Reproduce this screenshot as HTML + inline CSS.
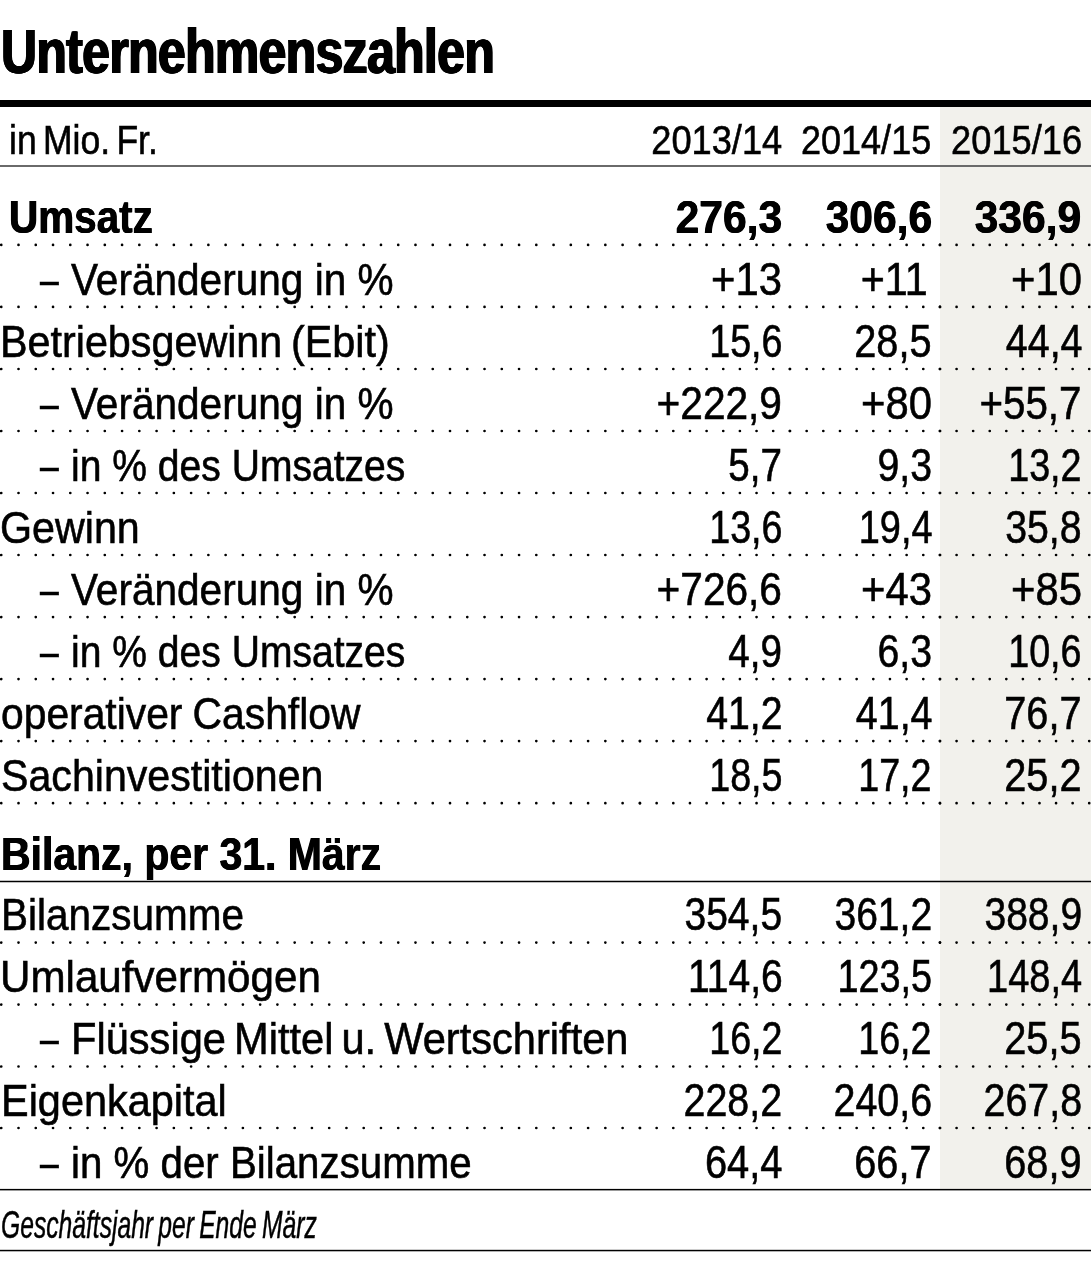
<!DOCTYPE html>
<html lang="de"><head><meta charset="utf-8"><title>Unternehmenszahlen</title>
<style>
html,body{margin:0;padding:0;background:#fff}
#page{position:relative;width:1091px;height:1280px;overflow:hidden;background:#fff;font-family:"Liberation Sans", Arial, sans-serif;color:#000}
.shade{position:absolute;left:940px;top:107px;width:151px;height:1083px;background:#f2f1ec}
.t{position:absolute;white-space:nowrap;word-spacing:-0.065em;line-height:1;transform-origin:0 0;margin:0;font-weight:400}
.t.r{transform-origin:100% 0}
.title{font-size:63.0px;font-weight:700;letter-spacing:-0.8px;text-shadow:1.1px 0 0 #000,-1.1px 0 0 #000,0.55px 0 0 #000,-0.55px 0 0 #000}
.hd{font-size:41.0px;-webkit-text-stroke:0.6px #000}
.b{font-size:45.0px;-webkit-text-stroke:0.6px #000}
.n{font-size:46.0px}
.bd{font-size:46.0px;font-weight:700;word-spacing:0;-webkit-text-stroke:0;text-shadow:0.5px 0 0 #000,-0.5px 0 0 #000}
.ft{font-size:38.0px;font-style:italic;-webkit-text-stroke:0.5px #000}
.dots{position:absolute;left:0;top:0}
.row,.note{margin:0;padding:0}
.dr{fill:none;stroke:#000;stroke-width:2.7;stroke-linecap:round}
.d0{stroke-dasharray:0 17.26}
.d1{stroke-dasharray:0 16.65}
.d2{stroke-dasharray:0 16.66}
.d3{stroke-dasharray:0 16.58}
</style></head>
<body><div id="page">
<div class="shade"></div>
<svg class="dots" width="1091" height="1280" viewBox="0 0 1091 1280" aria-hidden="true">
<rect x="0" y="100" width="1091" height="7"/>
<rect x="0" y="165" width="1091" height="2" fill="#6a6a6a"/>
<rect x="0" y="880.75" width="1091" height="1.5"/>
<rect x="0" y="1188.9" width="1091" height="1.5"/>
<rect x="0" y="1249.8" width="1091" height="1.5"/>
<g class="dr" transform="translate(0 244.9)"><path class="d0" d="M1.25 0H640.6"/><path class="d1" d="M640 0H790.5"/><path class="d2" d="M790 0H940.5"/><path class="d3" d="M940 0H1090"/></g>
<g class="dr" transform="translate(0 306.9)"><path class="d0" d="M1.25 0H640.6"/><path class="d1" d="M640 0H790.5"/><path class="d2" d="M790 0H940.5"/><path class="d3" d="M940 0H1090"/></g>
<g class="dr" transform="translate(0 369.0)"><path class="d0" d="M1.25 0H640.6"/><path class="d1" d="M640 0H790.5"/><path class="d2" d="M790 0H940.5"/><path class="d3" d="M940 0H1090"/></g>
<g class="dr" transform="translate(0 431.0)"><path class="d0" d="M1.25 0H640.6"/><path class="d1" d="M640 0H790.5"/><path class="d2" d="M790 0H940.5"/><path class="d3" d="M940 0H1090"/></g>
<g class="dr" transform="translate(0 493.0)"><path class="d0" d="M1.25 0H640.6"/><path class="d1" d="M640 0H790.5"/><path class="d2" d="M790 0H940.5"/><path class="d3" d="M940 0H1090"/></g>
<g class="dr" transform="translate(0 555.0)"><path class="d0" d="M1.25 0H640.6"/><path class="d1" d="M640 0H790.5"/><path class="d2" d="M790 0H940.5"/><path class="d3" d="M940 0H1090"/></g>
<g class="dr" transform="translate(0 617.1)"><path class="d0" d="M1.25 0H640.6"/><path class="d1" d="M640 0H790.5"/><path class="d2" d="M790 0H940.5"/><path class="d3" d="M940 0H1090"/></g>
<g class="dr" transform="translate(0 679.1)"><path class="d0" d="M1.25 0H640.6"/><path class="d1" d="M640 0H790.5"/><path class="d2" d="M790 0H940.5"/><path class="d3" d="M940 0H1090"/></g>
<g class="dr" transform="translate(0 741.1)"><path class="d0" d="M1.25 0H640.6"/><path class="d1" d="M640 0H790.5"/><path class="d2" d="M790 0H940.5"/><path class="d3" d="M940 0H1090"/></g>
<g class="dr" transform="translate(0 803.2)"><path class="d0" d="M1.25 0H640.6"/><path class="d1" d="M640 0H790.5"/><path class="d2" d="M790 0H940.5"/><path class="d3" d="M940 0H1090"/></g>
<g class="dr" transform="translate(0 942.6)"><path class="d0" d="M1.25 0H640.6"/><path class="d1" d="M640 0H790.5"/><path class="d2" d="M790 0H940.5"/><path class="d3" d="M940 0H1090"/></g>
<g class="dr" transform="translate(0 1004.6)"><path class="d0" d="M1.25 0H640.6"/><path class="d1" d="M640 0H790.5"/><path class="d2" d="M790 0H940.5"/><path class="d3" d="M940 0H1090"/></g>
<g class="dr" transform="translate(0 1066.5)"><path class="d0" d="M1.25 0H640.6"/><path class="d1" d="M640 0H790.5"/><path class="d2" d="M790 0H940.5"/><path class="d3" d="M940 0H1090"/></g>
<g class="dr" transform="translate(0 1128.0)"><path class="d0" d="M1.25 0H640.6"/><path class="d1" d="M640 0H790.5"/><path class="d2" d="M790 0H940.5"/><path class="d3" d="M940 0H1090"/></g>
</svg>
<h1 class="t title" style="left:1.10px;top:20.00px;transform:scaleX(0.7919)">Unternehmenszahlen</h1>
<div class="row head">
<span class="t hd" style="left:8.63px;top:120.00px;word-spacing:-0.1em;transform:scaleX(0.8665)">in Mio. Fr.</span>
<span class="t hd r" style="right:309.16px;top:120.00px;transform:scaleX(0.8835)">2013/14</span>
<span class="t hd r" style="right:159.76px;top:120.00px;transform:scaleX(0.8788)">2014/15</span>
<span class="t hd r" style="right:8.87px;top:120.00px;transform:scaleX(0.8848)">2015/16</span>
</div>
<div class="row">
<span class="t b bd" style="left:9.28px;top:194.00px;transform:scaleX(0.8793)">Umsatz</span>
<span class="t b bd n r" style="right:308.80px;top:194.00px;transform:scaleX(0.9249)">276,3</span>
<span class="t b bd n r" style="right:159.20px;top:194.00px;transform:scaleX(0.9249)">306,6</span>
<span class="t b bd n r" style="right:9.40px;top:194.00px;transform:scaleX(0.9249)">336,9</span>
</div>
<div class="row">
<span class="t b dash" style="left:40.23px;top:257.00px;transform:scaleX(0.7500)">–</span>
<span class="t b" style="left:71.07px;top:257.00px;word-spacing:0em;transform:scaleX(0.9016)">Veränderung in %</span>
<span class="t b n r" style="right:308.63px;top:256.00px;transform:scaleX(0.9088)">+13</span>
<span class="t b n r" style="right:163.05px;top:256.00px;transform:scaleX(0.8962)">+11</span>
<span class="t b n r" style="right:9.23px;top:256.00px;transform:scaleX(0.9088)">+10</span>
</div>
<div class="row">
<span class="t b" style="left:0.42px;top:319.00px;transform:scaleX(0.9175)">Betriebsgewinn (Ebit)</span>
<span class="t b n r" style="right:308.75px;top:318.00px;transform:scaleX(0.8194)">15,6</span>
<span class="t b n r" style="right:159.09px;top:318.00px;transform:scaleX(0.8631)">28,5</span>
<span class="t b n r" style="right:8.96px;top:318.00px;transform:scaleX(0.8572)">44,4</span>
</div>
<div class="row">
<span class="t b dash" style="left:40.23px;top:381.00px;transform:scaleX(0.7500)">–</span>
<span class="t b" style="left:71.07px;top:381.00px;word-spacing:0em;transform:scaleX(0.9016)">Veränderung in %</span>
<span class="t b n r" style="right:308.67px;top:380.00px;transform:scaleX(0.8835)">+222,9</span>
<span class="t b n r" style="right:159.03px;top:380.00px;transform:scaleX(0.9088)">+80</span>
<span class="t b n r" style="right:9.28px;top:380.00px;transform:scaleX(0.8756)">+55,7</span>
</div>
<div class="row">
<span class="t b dash" style="left:40.23px;top:443.00px;transform:scaleX(0.7500)">–</span>
<span class="t b" style="left:70.96px;top:443.00px;word-spacing:0em;transform:scaleX(0.8682)">in % des Umsatzes</span>
<span class="t b n r" style="right:308.72px;top:442.00px;transform:scaleX(0.8392)">5,7</span>
<span class="t b n r" style="right:159.11px;top:442.00px;transform:scaleX(0.8530)">9,3</span>
<span class="t b n r" style="right:9.35px;top:442.00px;transform:scaleX(0.8194)">13,2</span>
</div>
<div class="row">
<span class="t b" style="left:0.44px;top:505.00px;transform:scaleX(0.9158)">Gewinn</span>
<span class="t b n r" style="right:308.75px;top:504.00px;transform:scaleX(0.8194)">13,6</span>
<span class="t b n r" style="right:158.77px;top:504.00px;transform:scaleX(0.8238)">19,4</span>
<span class="t b n r" style="right:9.31px;top:504.00px;transform:scaleX(0.8533)">35,8</span>
</div>
<div class="row">
<span class="t b dash" style="left:40.23px;top:567.00px;transform:scaleX(0.7500)">–</span>
<span class="t b" style="left:71.07px;top:567.00px;word-spacing:0em;transform:scaleX(0.9016)">Veränderung in %</span>
<span class="t b n r" style="right:308.67px;top:566.00px;transform:scaleX(0.8835)">+726,6</span>
<span class="t b n r" style="right:159.03px;top:566.00px;transform:scaleX(0.9088)">+43</span>
<span class="t b n r" style="right:9.23px;top:566.00px;transform:scaleX(0.9088)">+85</span>
</div>
<div class="row">
<span class="t b dash" style="left:40.23px;top:629.00px;transform:scaleX(0.7500)">–</span>
<span class="t b" style="left:70.96px;top:629.00px;word-spacing:0em;transform:scaleX(0.8682)">in % des Umsatzes</span>
<span class="t b n r" style="right:308.72px;top:628.00px;transform:scaleX(0.8392)">4,9</span>
<span class="t b n r" style="right:159.11px;top:628.00px;transform:scaleX(0.8530)">6,3</span>
<span class="t b n r" style="right:9.35px;top:628.00px;transform:scaleX(0.8194)">10,6</span>
</div>
<div class="row">
<span class="t b" style="left:1.37px;top:691.00px;word-spacing:-0.03em;transform:scaleX(0.9068)">operativer Cashflow</span>
<span class="t b n r" style="right:308.71px;top:690.00px;transform:scaleX(0.8533)">41,2</span>
<span class="t b n r" style="right:158.76px;top:690.00px;transform:scaleX(0.8572)">41,4</span>
<span class="t b n r" style="right:9.29px;top:690.00px;transform:scaleX(0.8631)">76,7</span>
</div>
<div class="row">
<span class="t b" style="left:1.45px;top:753.00px;transform:scaleX(0.9141)">Sachinvestitionen</span>
<span class="t b n r" style="right:308.75px;top:752.00px;transform:scaleX(0.8194)">18,5</span>
<span class="t b n r" style="right:159.15px;top:752.00px;transform:scaleX(0.8194)">17,2</span>
<span class="t b n r" style="right:9.29px;top:752.00px;transform:scaleX(0.8631)">25,2</span>
</div>
<div class="row">
<span class="t b bd" style="left:0.87px;top:831.00px;transform:scaleX(0.8903)">Bilanz, per 31. März</span>
</div>
<div class="row">
<span class="t b" style="left:0.67px;top:892.00px;transform:scaleX(0.8996)">Bilanzsumme</span>
<span class="t b n r" style="right:308.71px;top:891.00px;transform:scaleX(0.8486)">354,5</span>
<span class="t b n r" style="right:159.11px;top:891.00px;transform:scaleX(0.8486)">361,2</span>
<span class="t b n r" style="right:9.31px;top:891.00px;transform:scaleX(0.8486)">388,9</span>
</div>
<div class="row">
<span class="t b" style="left:0.37px;top:954.00px;transform:scaleX(0.9364)">Umlaufvermögen</span>
<span class="t b n r" style="right:308.71px;top:953.00px;transform:scaleX(0.8485)">114,6</span>
<span class="t b n r" style="right:159.14px;top:953.00px;transform:scaleX(0.8225)">123,5</span>
<span class="t b n r" style="right:8.97px;top:953.00px;transform:scaleX(0.8258)">148,4</span>
</div>
<div class="row">
<span class="t b dash" style="left:40.23px;top:1016.00px;transform:scaleX(0.7500)">–</span>
<span class="t b" style="left:70.90px;top:1016.00px;word-spacing:-0.085em;transform:scaleX(0.9247)">Flüssige Mittel u. Wertschriften</span>
<span class="t b n r" style="right:308.75px;top:1015.00px;transform:scaleX(0.8194)">16,2</span>
<span class="t b n r" style="right:159.15px;top:1015.00px;transform:scaleX(0.8194)">16,2</span>
<span class="t b n r" style="right:9.29px;top:1015.00px;transform:scaleX(0.8631)">25,5</span>
</div>
<div class="row">
<span class="t b" style="left:0.71px;top:1078.00px;transform:scaleX(0.9209)">Eigenkapital</span>
<span class="t b n r" style="right:308.70px;top:1077.00px;transform:scaleX(0.8562)">228,2</span>
<span class="t b n r" style="right:159.10px;top:1077.00px;transform:scaleX(0.8562)">240,6</span>
<span class="t b n r" style="right:9.30px;top:1077.00px;transform:scaleX(0.8562)">267,8</span>
</div>
<div class="row">
<span class="t b dash" style="left:40.23px;top:1140.00px;transform:scaleX(0.7500)">–</span>
<span class="t b" style="left:70.98px;top:1140.00px;word-spacing:0em;transform:scaleX(0.8950)">in % der Bilanzsumme</span>
<span class="t b n r" style="right:308.35px;top:1139.00px;transform:scaleX(0.8670)">64,4</span>
<span class="t b n r" style="right:159.09px;top:1139.00px;transform:scaleX(0.8631)">66,7</span>
<span class="t b n r" style="right:9.29px;top:1139.00px;transform:scaleX(0.8631)">68,9</span>
</div>
<p class="note">
<span class="t ft" style="left:1.11px;top:1206.00px;transform:scaleX(0.6486)">Geschäftsjahr per Ende März</span>
</p>
</div></body></html>
